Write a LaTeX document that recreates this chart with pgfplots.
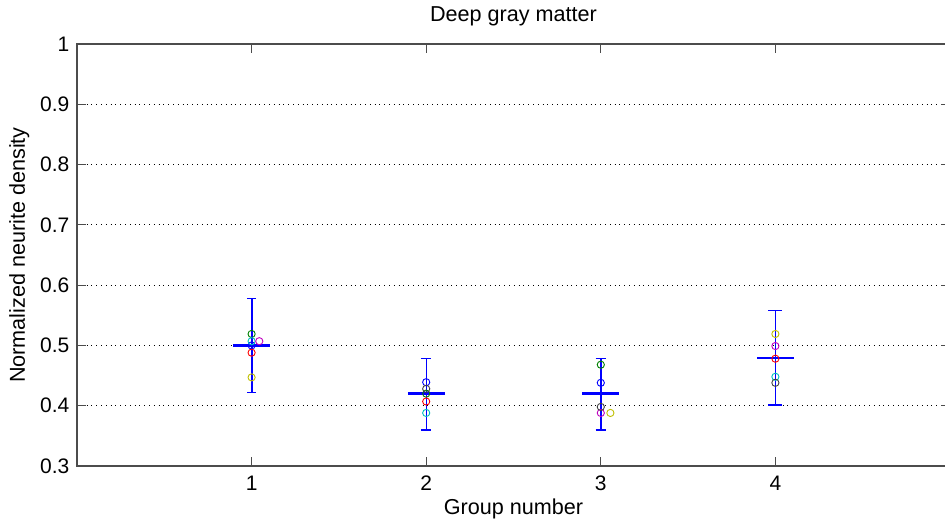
\documentclass[border=0pt]{standalone}
\usepackage{pgfplots}
\pgfplotsset{compat=1.18}
\usepackage{fontspec}
\setmainfont{Liberation Sans}
\definecolor{mblue}{rgb}{0,0,1}
\definecolor{mgreen}{rgb}{0,0.5,0}
\definecolor{mred}{rgb}{1,0,0}
\definecolor{mcyan}{rgb}{0,0.75,0.75}
\definecolor{mmag}{rgb}{0.75,0,0.75}
\definecolor{myel}{rgb}{0.75,0.75,0}
\definecolor{mgray}{rgb}{0.25,0.25,0.25}
\begin{document}
\fontsize{10.8}{13}\selectfont
\begin{tikzpicture}
\useasboundingbox (0,0) rectangle (472.5pt,264.5pt);
\clip (0,0) rectangle (472.5pt,264.5pt);
\begin{axis}[
  at={(38.5pt,31.5pt)}, anchor=south west,
  scale only axis, width=436.5pt, height=211pt,
  xmin=0, xmax=5, ymin=0.3, ymax=1,
  xtick={1,2,3,4}, ytick={0.3,0.4,...,1.0},
  yticklabels={0.3,0.4,0.5,0.6,0.7,0.8,0.9,1},
  /pgf/number format/assume math mode=true,
  tick align=inside, major tick length=4.5pt,
  tick style={black!70, line width=0.5pt},
  axis line style={black!70, line width=0.6pt},
  ymajorgrids, grid style={black, dotted, line width=0.5pt},
  title={Deep gray matter},
  title style={yshift=-1pt},
  xlabel={Group number}, ylabel={Normalized neurite density},
  xlabel style={yshift=3pt}, ylabel style={yshift=-2pt},
  xticklabel style={yshift=-1pt},
  tick label style={font=\fontsize{10.5}{12}\selectfont},
  label style={font=\fontsize{10.8}{13}\selectfont},
  title style={font=\fontsize{10.8}{13}\selectfont},
  clip=false,
]
% error bars (vertical lines)
\addplot[mblue, line width=0.7pt, forget plot] coordinates {(1.002,0.422) (1.002,0.578)};
\addplot[mblue, line width=0.7pt, forget plot] coordinates {(2,0.360) (2,0.478)};
\addplot[mblue, line width=0.7pt, forget plot] coordinates {(3,0.360) (3,0.478)};
\addplot[mblue, line width=0.7pt, forget plot] coordinates {(4.002,0.401) (4.002,0.558)};
% caps
\addplot[mblue, line width=0.7pt, forget plot] coordinates {(0.975,0.578) (1.025,0.578)};
\addplot[mblue, line width=0.7pt, forget plot] coordinates {(0.975,0.422) (1.025,0.422)};
\addplot[mblue, line width=0.7pt, forget plot] coordinates {(1.97,0.478) (2.03,0.478)};
\addplot[mblue, line width=0.7pt, forget plot] coordinates {(1.97,0.360) (2.03,0.360)};
\addplot[mblue, line width=0.7pt, forget plot] coordinates {(2.97,0.478) (3.03,0.478)};
\addplot[mblue, line width=0.7pt, forget plot] coordinates {(2.97,0.360) (3.03,0.360)};
\addplot[mblue, line width=0.7pt, forget plot] coordinates {(3.96,0.558) (4.04,0.558)};
\addplot[mblue, line width=0.7pt, forget plot] coordinates {(3.96,0.401) (4.04,0.401)};
% points
\addplot[only marks, mark=o, mark size=1.8pt, mblue, line width=0.45pt] coordinates {(1,0.500) (2,0.439) (3,0.438)};
\addplot[only marks, mark=o, mark size=1.8pt, mgreen, line width=0.45pt] coordinates {(1,0.519) (2,0.420) (3,0.468)};
\addplot[only marks, mark=o, mark size=1.8pt, mred, line width=0.45pt] coordinates {(1,0.488) (2,0.407) (4,0.478)};
\addplot[only marks, mark=o, mark size=1.8pt, mcyan, line width=0.45pt] coordinates {(1,0.507) (2,0.388) (4,0.448)};
\addplot[only marks, mark=o, mark size=1.8pt, mmag, line width=0.45pt] coordinates {(1.044,0.507) (3,0.388) (4,0.499)};
\addplot[only marks, mark=o, mark size=1.8pt, myel, line width=0.45pt] coordinates {(1,0.447) (3.055,0.388) (4,0.519)};
\addplot[only marks, mark=o, mark size=1.8pt, mgray, line width=0.45pt] coordinates {(2,0.428) (3,0.398) (4,0.438)};
% means
\addplot[mblue, line width=1.4pt, forget plot] coordinates {(0.895,0.500) (1.105,0.500)};
\addplot[mblue, line width=1.4pt, forget plot] coordinates {(1.895,0.420) (2.105,0.420)};
\addplot[mblue, line width=1.4pt, forget plot] coordinates {(2.895,0.420) (3.105,0.420)};
\addplot[mblue, line width=1.4pt, forget plot] coordinates {(3.895,0.479) (4.105,0.479)};
\end{axis}
\end{tikzpicture}
\end{document}
